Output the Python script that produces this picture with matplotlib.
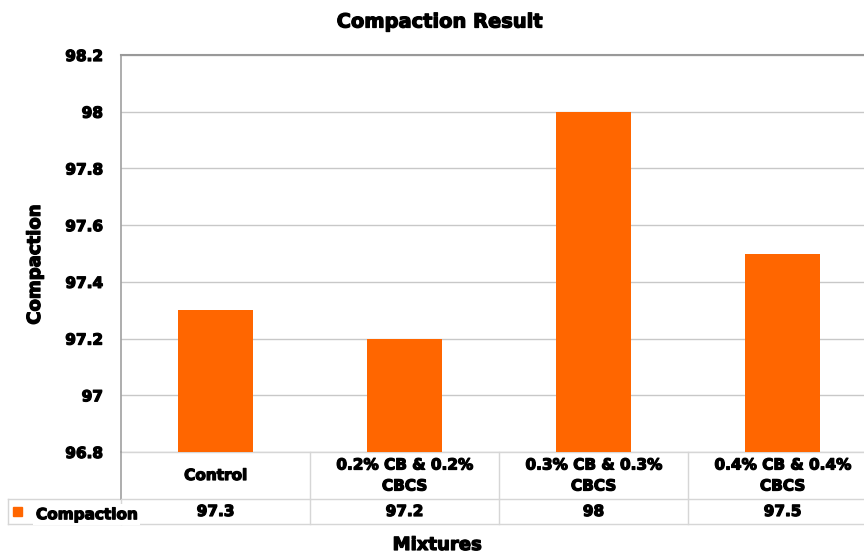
import matplotlib
matplotlib.use("Agg")
from matplotlib import pyplot as plt
from matplotlib import transforms
from matplotlib import patheffects
from matplotlib.patches import Rectangle

# compaction per mixture
mixtures = ["Control", "0.2% CB & 0.2%\nCBCS", "0.3% CB & 0.3%\nCBCS", "0.4% CB & 0.4%\nCBCS"]
compaction = [97.3, 97.2, 98.0, 97.5]
value_labels = ["97.3", "97.2", "98", "97.5"]
y_ticks = [96.8, 97.0, 97.2, 97.4, 97.6, 97.8, 98.0, 98.2]
y_tick_labels = ["96.8", "97", "97.2", "97.4", "97.6", "97.8", "98", "98.2"]

orange = "#FF6600"
grid_grey = "#c8c8c8"
edge_grey = "#a0a0a0"

plt.rcParams["font.family"] = ["DejaVu Sans"]
plt.rcParams["font.weight"] = "bold"

# thicker strokes for the heavy text look
heavy = [patheffects.withStroke(linewidth=0.9, foreground="black")]

W, H = 864, 553
fig = plt.figure(figsize=(W / 100, H / 100), dpi=100)

# plot area in pixels: left 121, top 55, bottom 452, four 189 px columns
left, top, bottom, col = 121, 55, 452, 189
ax = fig.add_axes([left / W, (H - bottom) / H, 4 * col / W, (bottom - top) / H])

x = list(range(len(mixtures)))
ax.bar(x, compaction, width=0.4, color=orange, zorder=3)

ax.set_xlim(-0.5, 3.5)
ax.set_ylim(96.8, 98.2)
ax.set_yticks(y_ticks)
ax.set_yticklabels(y_tick_labels, fontsize=11, fontweight="bold")
for t in ax.get_yticklabels():
    t.set_path_effects(heavy)
ax.tick_params(axis="y", length=0, pad=13)
ax.set_xticks([])
ax.grid(axis="y", color=grid_grey, linewidth=1, zorder=0)

for s in ["right", "bottom"]:
    ax.spines[s].set_visible(False)
ax.spines["top"].set_color("#999999")
ax.spines["top"].set_linewidth(1.5)
ax.spines["left"].set_color(edge_grey)
ax.spines["left"].set_linewidth(1.2)

# data table under the bars
ph = bottom - top
row1 = -47 / ph
row2 = -72 / ph
tr = transforms.blended_transform_factory(ax.transData, ax.transAxes)
fig_x = transforms.blended_transform_factory(fig.transFigure, ax.transAxes)
line_kw = dict(color="#d6d6d6", linewidth=1, clip_on=False)

ax.plot([-0.5, 3.5], [0, 0], transform=tr, **line_kw)
ax.plot([8 / W, 1], [row1, row1], transform=fig_x, **line_kw)
ax.plot([8 / W, 1], [row2, row2], transform=fig_x, **line_kw)
ax.plot([8 / W, 8 / W], [row1, row2], transform=fig_x, **line_kw)
ax.plot([-0.5, -0.5], [0, row1], transform=tr, color=edge_grey, linewidth=1.2, clip_on=False)
for b in [-0.5, 0.5, 1.5, 2.5]:
    ax.plot([b, b], [row1, row2], transform=tr, **line_kw)
    if b > -0.5:
        ax.plot([b, b], [0, row1], transform=tr, **line_kw)

for i, (name, val) in enumerate(zip(mixtures, value_labels)):
    ax.text(i, row1 / 2, name, transform=tr, ha="center", va="center",
            fontsize=11, fontweight="bold", linespacing=1.5, path_effects=heavy)
    ax.text(i, (row1 + row2) / 2, val, transform=tr, ha="center", va="center",
            fontsize=11, fontweight="bold", path_effects=heavy)

# legend key in the first column of the value row
ax.add_patch(Rectangle((13 / W, (row1 + row2) / 2 - 0.012), 9 / W, 0.024,
                       transform=fig_x, color=orange, clip_on=False))
ax.text(36 / W, (row1 + row2) / 2 - 0.008, "Compaction", transform=fig_x,
        ha="left", va="center", fontsize=11, fontweight="bold", path_effects=heavy,
        bbox=dict(facecolor="white", edgecolor="none", pad=2))

fig.text(440 / W, 1 - 22 / H, "Compaction Result", ha="center", va="center",
         fontsize=14, fontweight="bold", path_effects=heavy)
fig.text(35 / W, 1 - 265 / H, "Compaction", ha="center", va="center",
         rotation=90, fontsize=13, fontweight="bold", path_effects=heavy)
fig.text(437 / W, 1 - 545 / H, "Mixtures", ha="center", va="center",
         fontsize=13, fontweight="bold", path_effects=heavy)

fig.savefig("out.png", dpi=100)
